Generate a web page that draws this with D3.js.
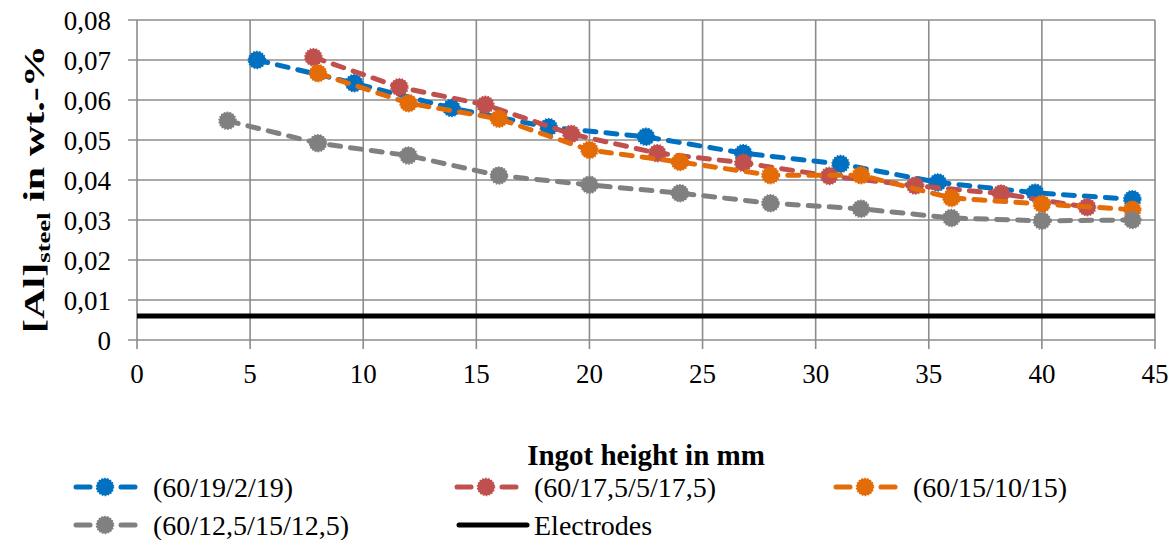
<!DOCTYPE html>
<html>
<head>
<meta charset="utf-8">
<script src="https://cdn.jsdelivr.net/npm/d3@7"></script>
<style>
  body { margin: 0; background: #fff; }
</style>
</head>
<body>
<div id="chart"></div>
<script>
// series
var blueX  = [5.3, 9.6, 13.9, 18.2, 22.5, 26.8, 31.1, 35.4, 39.7, 44.0];
var blueY  = [0.0700, 0.0642, 0.0580, 0.0532, 0.0508, 0.0467, 0.0440, 0.0394, 0.0368, 0.0352];
var redX   = [7.8, 11.6, 15.4, 19.2, 23.0, 26.8, 30.6, 34.4, 38.2, 42.0];
var redY   = [0.0707, 0.0632, 0.0588, 0.0515, 0.0467, 0.0443, 0.0410, 0.0386, 0.0366, 0.0332];
var orangeX = [8, 12, 16, 20, 24, 28, 32, 36, 40, 44];
var orangeY = [0.0667, 0.0592, 0.0553, 0.0475, 0.0445, 0.0412, 0.0412, 0.0355, 0.0340, 0.0326];
var grayX  = [4, 8, 12, 16, 20, 24, 28, 32, 36, 40, 44];
var grayY  = [0.0548, 0.0492, 0.0461, 0.0411, 0.0388, 0.0367, 0.0342, 0.0328, 0.0305, 0.0298, 0.0300];
var electrodesX = [0, 45];
var electrodesY = [0.006, 0.006];

var xTicks = [0, 5, 10, 15, 20, 25, 30, 35, 40, 45];
var yTicks = [0, 0.01, 0.02, 0.03, 0.04, 0.05, 0.06, 0.07, 0.08];

var series = [
  {name: "(60/19/2/19)", xs: blueX, ys: blueY, color: "#0070C0"},
  {name: "(60/17,5/5/17,5)", xs: redX, ys: redY, color: "#C0504D"},
  {name: "(60/15/10/15)", xs: orangeX, ys: orangeY, color: "#E36C09"},
  {name: "(60/12,5/15/12,5)", xs: grayX, ys: grayY, color: "#808080"}
];

var serif = "'Liberation Serif', 'Times New Roman', 'DejaVu Serif', serif";

var svgwidth = 1174, svgheight = 540,
    margin = {top: 20, right: 19, bottom: 200, left: 137};
var width = svgwidth - margin.left - margin.right,
    height = svgheight - margin.top - margin.bottom;

var svg = d3.select("#chart").append("svg")
    .attr("width", svgwidth)
    .attr("height", svgheight)
    .attr("font-family", serif);
var g = svg.append("g").attr("transform", "translate(" + margin.left + "," + margin.top + ")");

var x = d3.scaleLinear().domain([0, 45]).range([0, width]),
    y = d3.scaleLinear().domain([0, 0.08]).range([height, 0]);

var gridColor = "#8c8c8c";

// horizontal grid + y ticks
g.selectAll(".hgrid").data(yTicks).enter().append("line")
    .attr("x1", -9).attr("x2", width)
    .attr("y1", function(d) { return y(d); })
    .attr("y2", function(d) { return y(d); })
    .attr("stroke", gridColor).attr("stroke-width", 1.6);

// vertical grid + x ticks
g.selectAll(".vgrid").data(xTicks).enter().append("line")
    .attr("y1", 0).attr("y2", height + 9)
    .attr("x1", function(d) { return x(d); })
    .attr("x2", function(d) { return x(d); })
    .attr("stroke", gridColor).attr("stroke-width", 1.6);

var fmt = function(d) { return d === 0 ? "0" : d3.format(".2f")(d).replace(".", ","); };

g.selectAll(".ylab").data(yTicks).enter().append("text")
    .attr("x", -26)
    .attr("y", function(d) { return y(d) + 10; })
    .attr("text-anchor", "end")
    .attr("font-family", serif)
    .style("font-size", "27px")
    .text(fmt);

g.selectAll(".xlab").data(xTicks).enter().append("text")
    .attr("x", function(d) { return x(d); })
    .attr("y", height + 43)
    .attr("text-anchor", "middle")
    .attr("font-family", serif)
    .style("font-size", "27px")
    .text(function(d) { return d; });

// electrodes
var line = d3.line()
    .x(function(d) { return x(d[0]); })
    .y(function(d) { return y(d[1]); });

g.append("path")
    .attr("d", line(d3.zip(electrodesX, electrodesY)))
    .attr("fill", "none")
    .attr("stroke", "#000")
    .attr("stroke-width", 5);

// dashed series with markers (later series on top, as in the original)
series.forEach(function(s) {
  var pts = d3.zip(s.xs, s.ys);
  g.append("path")
    .attr("d", line(pts))
    .attr("fill", "none")
    .attr("stroke", s.color)
    .attr("stroke-width", 5)
    .attr("stroke-dasharray", "11,10")
    .attr("stroke-linecap", "round");
  g.selectAll(null).data(pts).enter().append("circle")
    .attr("cx", function(d) { return x(d[0]); })
    .attr("cy", function(d) { return y(d[1]); })
    .attr("r", 8.5)
    .attr("fill", s.color)
    .attr("stroke", s.color)
    .attr("stroke-width", 1.5)
    .attr("stroke-dasharray", "1.5,1.5");
});

// axis titles
svg.append("text")
    .attr("x", 646).attr("y", 465)
    .attr("text-anchor", "middle")
    .attr("font-family", serif)
    .style("font-size", "29px")
    .style("font-weight", "bold")
    .text("Ingot height in mm");

var yt = svg.append("text")
    .attr("text-anchor", "middle")
    .attr("font-family", serif)
    .style("font-size", "30px")
    .style("font-weight", "bold");
yt.append("tspan").text("[Al]");
yt.append("tspan").attr("dy", 6).style("font-size", "19px").text("steel");
yt.append("tspan").attr("dy", -6).text(" in wt.-%");
// the original title is drawn stretched along its length (~288px)
var ytw = yt.node().getBBox().width;
yt.attr("transform", "translate(44,189) rotate(-90) scale(" + (288 / ytw) + ",1)");

// legend
var legendItems = [
  {name: series[0].name, color: series[0].color, marker: true, lx: 74, ly: 487},
  {name: series[1].name, color: series[1].color, marker: true, lx: 455, ly: 487},
  {name: series[2].name, color: series[2].color, marker: true, lx: 834, ly: 487},
  {name: series[3].name, color: series[3].color, marker: true, lx: 74, ly: 525},
  {name: "Electrodes", color: "#000", marker: false, lx: 455, ly: 525}
];

var leg = svg.selectAll(".legend").data(legendItems).enter().append("g")
    .attr("transform", function(d) { return "translate(" + d.lx + "," + d.ly + ")"; });

leg.each(function(d) {
  var el = d3.select(this);
  if (d.marker) {
    el.append("line").attr("x1", 2).attr("x2", 16).attr("y1", 0).attr("y2", 0)
      .attr("stroke", d.color).attr("stroke-width", 5).attr("stroke-linecap", "round");
    el.append("line").attr("x1", 47).attr("x2", 61).attr("y1", 0).attr("y2", 0)
      .attr("stroke", d.color).attr("stroke-width", 5).attr("stroke-linecap", "round");
    el.append("circle").attr("cx", 31).attr("cy", 0).attr("r", 8.5).attr("fill", d.color)
      .attr("stroke", d.color).attr("stroke-width", 1.5).attr("stroke-dasharray", "1.5,1.5");
    el.append("text").attr("x", 79).attr("dy", "0.35em")
      .attr("font-family", serif).style("font-size", "28px").text(d.name);
  } else {
    el.append("line").attr("x1", 4).attr("x2", 72).attr("y1", 0).attr("y2", 0)
      .attr("stroke", d.color).attr("stroke-width", 5).attr("stroke-linecap", "round");
    el.append("text").attr("x", 79).attr("dy", "0.35em")
      .attr("font-family", serif).style("font-size", "28px").text(d.name);
  }
});
</script>
</body>
</html>
